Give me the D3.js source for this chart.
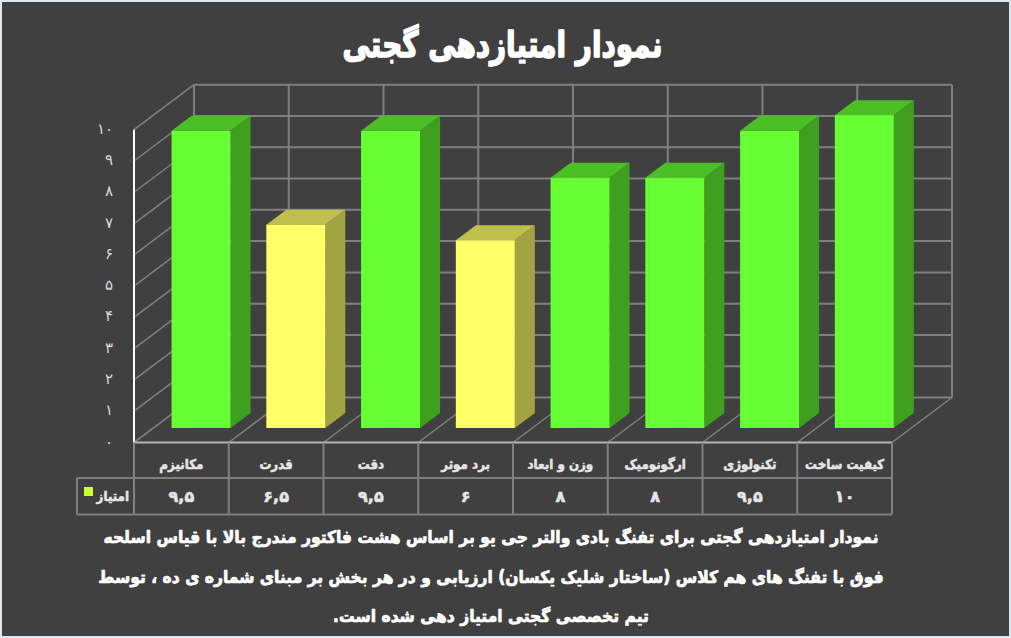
<!DOCTYPE html>
<html lang="fa"><head><meta charset="utf-8">
<script src="https://cdnjs.cloudflare.com/ajax/libs/d3/7.8.5/d3.min.js"></script>
<style>
html,body{margin:0;padding:0;background:#dfe7ef;overflow:hidden}
svg{display:block}
text{font-family:"DejaVu Sans",sans-serif}
</style></head><body>
<svg id="c" width="1011" height="638"></svg>
<script>
const categories=["مکانیزم","قدرت","دقت","برد موثر","وزن و ابعاد","ارگونومیک","تکنولوژی","کیفیت ساخت"];
const values=[9.5,6.5,9.5,6,8,8,9.5,10];
const valueLabels=["۹,۵","۶,۵","۹,۵","۶","۸","۸","۹,۵","۱۰"];
const tickLabels=["۰","۱","۲","۳","۴","۵","۶","۷","۸","۹","۱۰"];
const tickValues=[0,1,2,3,4,5,6,7,8,9,10];
const seriesName="امتیاز";
const titleText="نمودار امتیازدهی گجتی";
const noteLines=[
"نمودار امتیازدهی گجتی برای تفنگ بادی والتر جی یو بر اساس هشت فاکتور مندرج بالا با قیاس اسلحه",
"فوق با تفنگ های هم کلاس (ساختار شلیک یکسان) ارزیابی و در هر بخش بر مبنای شماره ی ده ، توسط",
"تیم تخصصی گجتی امتیاز دهی شده است."];
const W=1011,H=638;
const svg=d3.select("#c");
svg.append("rect").attr("x",2).attr("y",2).attr("width",W-4).attr("height",H-4).attr("fill","#404040");

const x=d3.scaleBand().domain(d3.range(categories.length)).range([134,892]);
const y=d3.scaleLinear().domain([0,10]).range([442.5,129.7]);
const dep=[60,-45], barDep=[20,-15], off=[19.7,-14.5];
const barW=59;
const grid="#7f7f7f";
const g=svg.append("g");
const line=(x1,y1,x2,y2,c,w)=>g.append("line").attr("x1",x1).attr("y1",y1).attr("x2",x2).attr("y2",y2).attr("stroke",c).attr("stroke-width",w);
tickValues.forEach(t=>{
  line(x.range()[0],y(t),x.range()[0]+dep[0],y(t)+dep[1],grid,1.5);
  line(x.range()[0]+dep[0],y(t)+dep[1],x.range()[1]+dep[0],y(t)+dep[1],grid,2);
});
const edges=d3.range(categories.length+1).map(i=>i<categories.length?x(i):x.range()[1]);
edges.forEach(e=>{
  line(e+dep[0],y(0)+dep[1],e+dep[0],y(10)+dep[1],grid,2);
  line(e,y(0),e+dep[0],y(0)+dep[1],grid,1.5);
});
line(x.range()[0],y(0),x.range()[0],y(10),"#ffffff",2);
line(x.range()[0],y(0),x.range()[1],y(0),"#b5b5b5",2);

const poly=(pts,c)=>g.append("polygon").attr("points",pts.map(p=>p.join(",")).join(" ")).attr("fill",c);
const pal=v=>v>=8?{f:"#66ff33",s:"#3f9f1f",t:"#4dbf26"}:{f:"#ffff66",s:"#a3a33f",t:"#bfbf4d"};
values.forEach((v,i)=>{
  const c=pal(v);
  const l=x(i)+(x.bandwidth()-barW)/2+off[0], r=l+barW;
  const b=y(0)+off[1], tp=y(v)+off[1];
  poly([[r,b],[r+barDep[0],b+barDep[1]],[r+barDep[0],tp+barDep[1]],[r,tp]],c.s);
  poly([[l,tp],[l+barDep[0],tp+barDep[1]],[r+barDep[0],tp+barDep[1]],[r,tp]],c.t);
  g.append("rect").attr("x",l).attr("y",tp).attr("width",barW).attr("height",b-tp).attr("fill",c.f);
});

tickValues.forEach((t,i)=>{
  svg.append("text").attr("x",113).attr("y",y(t)+4).attr("text-anchor","end")
   .attr("font-size",15).attr("fill","#d9d9d9").attr("font-family","Liberation Serif, DejaVu Serif").text(tickLabels[i]);
});

const rowA=478,rowB=514.5,legL=77;
const tc="#808080";
edges.forEach(e=>line(e,y(0),e,rowB,tc,2));
line(legL,rowA,x.range()[1],rowA,tc,2);
line(legL,rowB,x.range()[1],rowB,tc,2);
line(legL,rowA,legL,rowB,tc,2);
const heavy=(s,w)=>s.attr("stroke",s.attr("fill")).attr("stroke-width",w).attr("stroke-linejoin","round");
const squeezed=(cx,cy,k)=>`translate(${cx},${cy}) scale(${k},1)`;
categories.forEach((c,i)=>{
  const cx=x(i)+x.bandwidth()/2;
  heavy(svg.append("text").attr("transform",squeezed(cx,469,0.88)).attr("text-anchor","middle")
   .attr("font-size",13.5).attr("font-weight","bold").attr("fill","#e6e6e6").attr("direction","rtl").text(c),0.55);
  heavy(svg.append("text").attr("x",cx).attr("y",502).attr("text-anchor","middle")
   .attr("font-size",16).attr("font-weight","bold").attr("fill","#e6e6e6").text(valueLabels[i]),0.6);
});
svg.append("rect").attr("x",84).attr("y",487).attr("width",9).attr("height",9).attr("fill","#ccff33");
heavy(svg.append("text").attr("transform",squeezed(129,501,0.88)).attr("text-anchor","start").attr("direction","rtl")
  .attr("font-size",13.5).attr("font-weight","bold").attr("fill","#e6e6e6").text(seriesName),0.55);

heavy(svg.append("text").attr("transform",squeezed(502.5,56.5,0.775)).attr("text-anchor","middle").attr("direction","rtl")
  .attr("font-size",36).attr("font-weight","bold").attr("fill","#ffffff").text(titleText),1.6);
noteLines.forEach((t,i)=>{
  heavy(svg.append("text").attr("transform",squeezed(491,[543,583,622][i],0.915)).attr("text-anchor","middle").attr("direction","rtl")
   .attr("font-size",17).attr("font-weight","bold").attr("fill","#ffffff").text(t),0.7);
});
</script></body></html>
